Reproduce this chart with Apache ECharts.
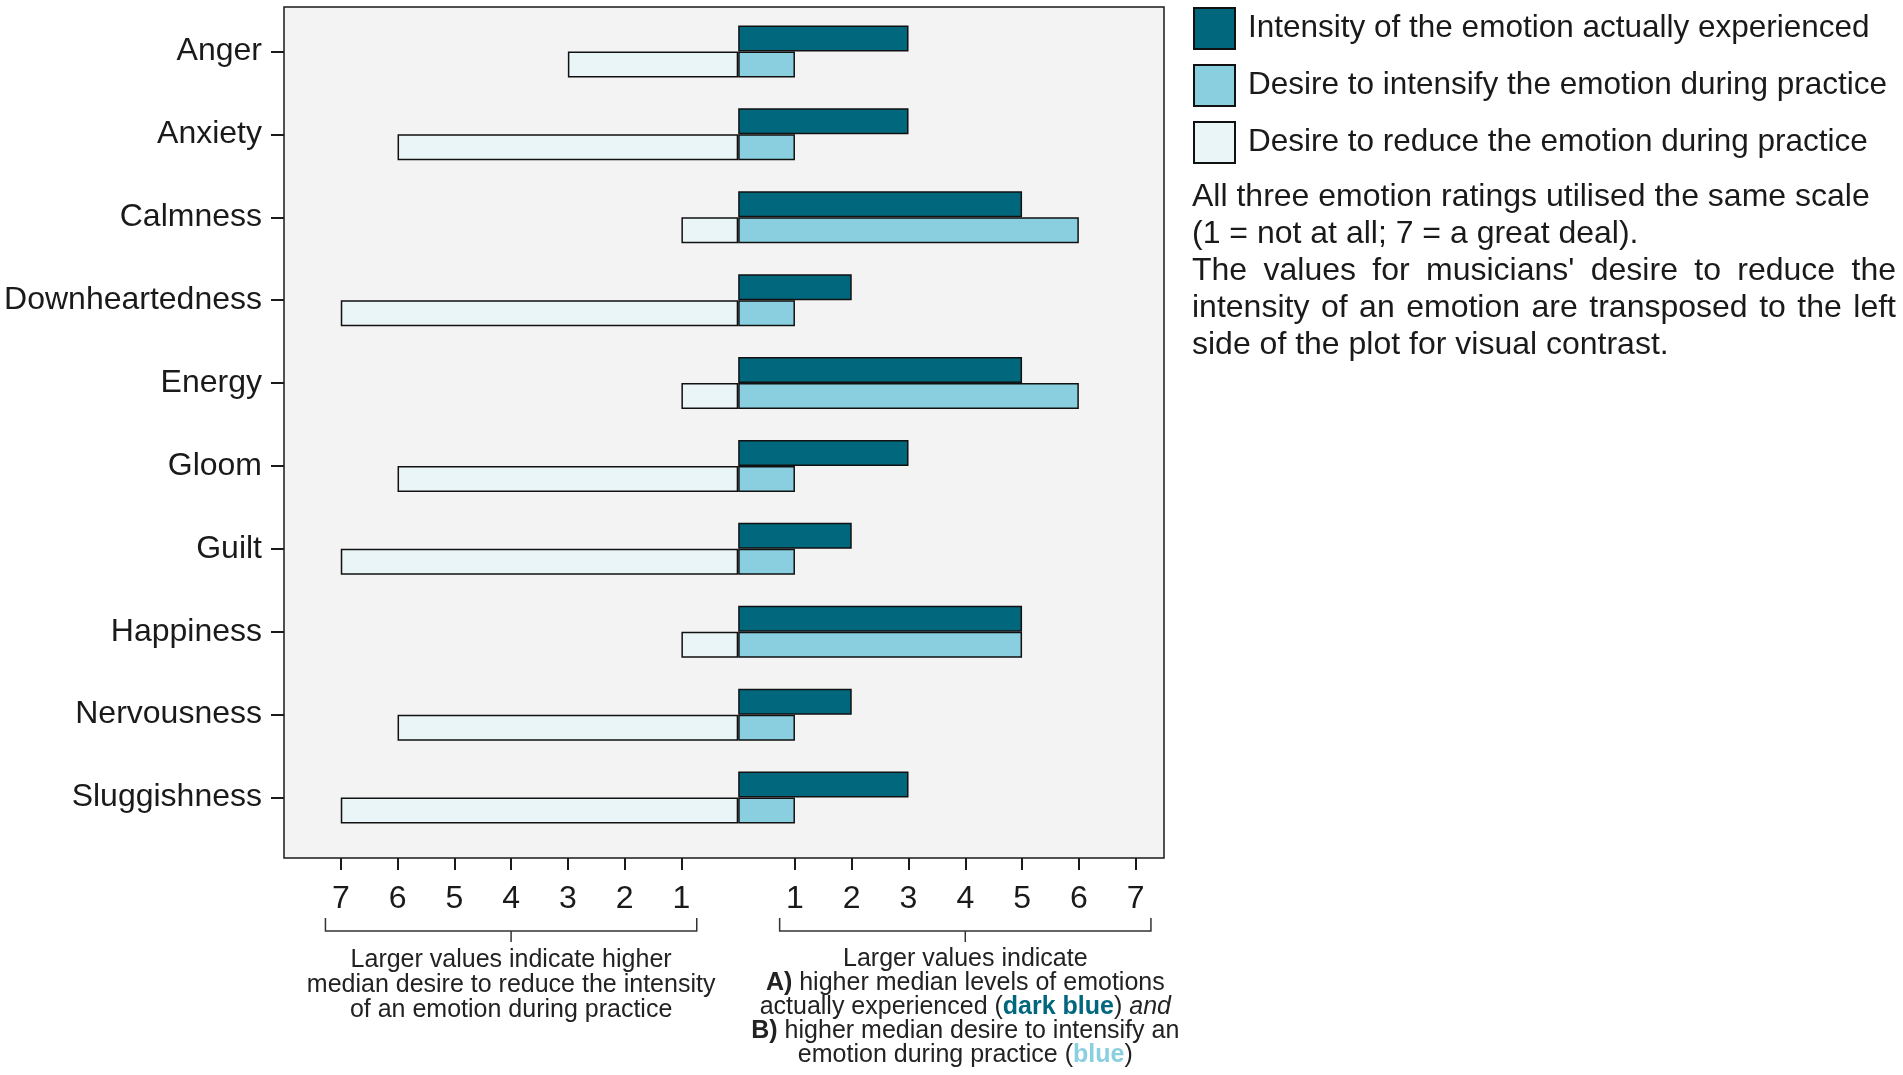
<!DOCTYPE html>
<html>
<head>
<meta charset="utf-8">
<title>Emotions during practice</title>
<script src="https://cdn.jsdelivr.net/npm/echarts@6/dist/echarts.min.js"></script>
<style>
  html, body { margin: 0; padding: 0; background: #fff; }
  #chart { width: 1903px; height: 1075px; }
</style>
</head>
<body>
<div id="chart"></div>
<script>
// median ratings, 1-7 scale
const emotions = ['Anger', 'Anxiety', 'Calmness', 'Downheartedness', 'Energy', 'Gloom', 'Guilt', 'Happiness', 'Nervousness', 'Sluggishness'];
const experienced = [3, 3, 5, 2, 5, 3, 2, 5, 2, 3];
const intensify = [1, 1, 6, 1, 6, 1, 1, 5, 1, 1];
const reduce = [3, 6, 1, 7, 1, 6, 7, 1, 6, 7];
const tickValues = [-7, -6, -5, -4, -3, -2, -1, 1, 2, 3, 4, 5, 6, 7];
const seriesNames = [
  'Intensity of the emotion actually experienced',
  'Desire to intensify the emotion during practice',
  'Desire to reduce the emotion during practice'
];
const noteLines = [
  'All three emotion ratings utilised the same scale',
  '(1 = not at all; 7 = a great deal).',
  "The values for musicians' desire to reduce the",
  'intensity of an emotion are transposed to the left',
  'side of the plot for visual contrast.'
];
const justifiedLines = [2, 3];

const FONT = '"Liberation Sans", Arial, sans-serif';
const INK = '#1a1a1a';
const DARK = '#00677d';
const MID = '#89cfe0';
const LIGHT = '#eaf5f7';

const chart = echarts.init(document.getElementById('chart'));

const barStyle = color => ({ color: color, borderColor: '#111', borderWidth: 1.5 });

const option = {
  animation: false,
  backgroundColor: '#fff',
  grid: [
    { left: 284, right: 739, top: 7, bottom: 217, show: true, backgroundColor: '#f3f3f3', borderColor: INK, borderWidth: 1.5 },
    { left: 284, right: 739, top: 10, bottom: 236 }
  ],
  xAxis: [
    {
      gridIndex: 0, type: 'value', min: -8, max: 7.5, offset: 5,
      axisLine: { show: false },
      splitLine: { show: false },
      axisTick: { show: true, length: 12, customValues: tickValues, lineStyle: { color: INK, width: 2 } },
      axisLabel: {
        customValues: tickValues, margin: 20,
        formatter: v => String(Math.abs(v)),
        fontSize: 32, color: INK, fontFamily: FONT
      }
    },
    { gridIndex: 1, type: 'value', min: -8, max: 7.5, show: false }
  ],
  yAxis: [
    { gridIndex: 0, type: 'value', show: false },
    {
      gridIndex: 1, type: 'category', data: emotions, inverse: true,
      axisLine: { show: false, onZero: false },
      axisTick: { show: true, alignWithLabel: true, length: 13, lineStyle: { color: INK, width: 2 } },
      axisLabel: { margin: 22, fontSize: 32, color: INK, fontFamily: FONT }
    }
  ],
  legend: {
    data: seriesNames, orient: 'vertical', left: 1193, top: 7, padding: 0,
    itemWidth: 41, itemHeight: 41, itemGap: 14, icon: 'rect', selectedMode: false,
    textStyle: { fontSize: 31.5, color: INK, fontFamily: FONT, padding: [0, 0, 0, 8] }
  },
  series: [
    { name: seriesNames[0], type: 'bar', xAxisIndex: 1, yAxisIndex: 1, data: experienced,
      barWidth: 26, barGap: '0%', itemStyle: barStyle(DARK) },
    { name: seriesNames[1], type: 'bar', xAxisIndex: 1, yAxisIndex: 1, stack: 'desire', data: intensify,
      barWidth: 26, barGap: '0%', itemStyle: barStyle(MID) },
    { name: seriesNames[2], type: 'bar', xAxisIndex: 1, yAxisIndex: 1, stack: 'desire', data: reduce.map(v => -v),
      barWidth: 26, barGap: '0%', itemStyle: barStyle(LIGHT) }
  ]
};
chart.setOption(option);

// annotations below the axis and the note on the right
const px = v => chart.convertToPixel({ xAxisIndex: 0 }, v);
const graphics = [];

function bracket(center) {
  const a = px(center - 3.27), b = px(center + 3.27), m = px(center);
  graphics.push({
    type: 'polyline', silent: true,
    shape: { points: [[a, 918], [a, 931], [b, 931], [b, 918]] },
    style: { stroke: '#333', lineWidth: 1.5, fill: null }
  });
  graphics.push({
    type: 'line', silent: true,
    shape: { x1: m, y1: 931, x2: m, y2: 942 },
    style: { stroke: '#333', lineWidth: 1.5 }
  });
}
bracket(-4);
bracket(4);

const small = (lh) => ({ fontSize: 25, fontFamily: FONT, lineHeight: lh, align: 'center' });
graphics.push({
  type: 'text', x: px(-4), y: 948, silent: true,
  style: Object.assign({
    text: 'Larger values indicate higher\nmedian desire to reduce the intensity\nof an emotion during practice',
    fill: '#222', verticalAlign: 'top'
  }, small(25))
});
graphics.push({
  type: 'text', x: px(4), y: 947, silent: true,
  style: Object.assign({
    text: 'Larger values indicate\n{b|A)} higher median levels of emotions\nactually experienced ({d|dark blue}) {i|and}\n{b|B)} higher median desire to intensify an\nemotion during practice ({l|blue})',
    fill: '#222', verticalAlign: 'top',
    rich: {
      b: Object.assign({ fontWeight: 'bold', fill: '#222' }, small(24)),
      d: Object.assign({ fontWeight: 'bold', fill: DARK }, small(24)),
      l: Object.assign({ fontWeight: 'bold', fill: MID }, small(24)),
      i: Object.assign({ fontStyle: 'italic', fill: '#222' }, small(24))
    }
  }, small(24))
});

const measure = document.createElement('canvas').getContext('2d');
measure.font = '32px "Liberation Sans", Arial, sans-serif';
const noteX0 = 1192, noteX1 = 1896;
noteLines.forEach((line, i) => {
  const y = 197 + i * 37;
  const style = { fontSize: 32, fontFamily: FONT, fill: INK, verticalAlign: 'middle', align: 'left' };
  if (justifiedLines.indexOf(i) < 0) {
    graphics.push({ type: 'text', x: noteX0, y: y, silent: true, style: Object.assign({ text: line }, style) });
    return;
  }
  const words = line.split(' ');
  const widths = words.map(w => measure.measureText(w).width);
  const total = widths.reduce((s, w) => s + w, 0);
  const gap = (noteX1 - noteX0 - total) / (words.length - 1);
  let x = noteX0;
  words.forEach((w, k) => {
    graphics.push({ type: 'text', x: x, y: y, silent: true, style: Object.assign({ text: w }, style) });
    x += widths[k] + gap;
  });
});

chart.setOption({ graphic: graphics });
</script>
</body>
</html>
